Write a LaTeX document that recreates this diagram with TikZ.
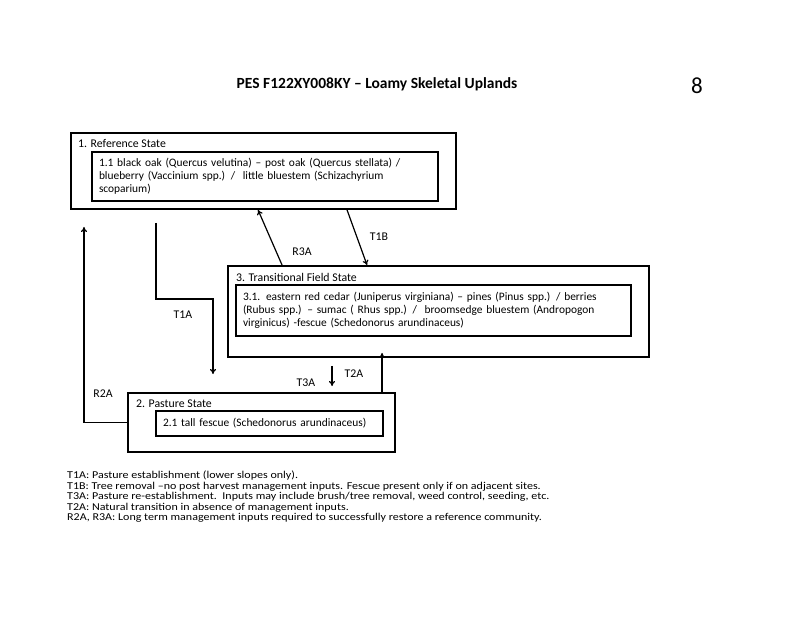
\documentclass[tikz,border=0pt]{standalone}
\usepackage{fontspec}
\setmainfont{Carlito}
\usetikzlibrary{arrows.meta,calc}
\begin{document}
\begin{tikzpicture}[x=1pt,y=-1pt,
  outerbox/.style={draw,line width=1.9pt,minimum width=#1,inner sep=0pt},
  innerbox/.style={draw,line width=1.2pt,align=left,inner xsep=7pt,inner ysep=0pt,font=\fontsize{11.4}{13}\selectfont},
  lbl/.style={font=\fontsize{11.8}{13}\selectfont,inner sep=0pt},
  arr/.style={line width=1.2pt,-{To[length=5pt,width=6pt]}},
  ln/.style={line width=1.2pt}]
\useasboundingbox (0,0) rectangle (800,617);
% title
\node[font=\fontsize{15.5}{17}\bfseries\selectfont] (title) at (377,84) {PES F122XY008KY -- Loamy Skeletal Uplands};
\node[font=\fontsize{23}{25}\selectfont] (pnum) at (697,86) {8};
% Reference state
\node[outerbox=385pt,minimum height=76pt] (ref) at (263.5,171) {};
\node[lbl,anchor=west] (reflbl) at (78,144) {1. Reference State};
\node[innerbox,text width=332pt,minimum height=49pt] (refin) at (265,176.5) {1.1 black oak (Quercus velutina) -- post oak (Quercus stellata) /\\ blueberry (Vaccinium spp.) /\ \ little bluestem (Schizachyrium\\ scoparium)};
% Transitional
\node[outerbox=421pt,minimum height=91pt] (trans) at (438.5,311.5) {};
\node[lbl,anchor=west] (translbl) at (236,277) {3. Transitional Field State};
\node[innerbox,text width=381pt,minimum height=51pt] (transin) at (433.5,310.5) {3.1. eastern red cedar (Juniperus virginiana) -- pines (Pinus spp.) / berries\\ (Rubus spp.) -- sumac ( Rhus spp.) /\ \ broomsedge bluestem (Andropogon\\ virginicus) -fescue (Schedonorus arundinaceus)};
% Pasture
\node[outerbox=267pt,minimum height=59pt] (past) at (261.5,422.5) {};
\node[lbl,anchor=west] (pastlbl) at (136,404) {2. Pasture State};
\node[innerbox,text width=213pt,minimum height=25pt] (pastin) at (269.5,423.5) {2.1 tall fescue (Schedonorus arundinaceus)};
% connectors
\coordinate (r2aend) at (84,227);
\draw[arr] (past.west) -| (r2aend);
\coordinate (t1astart) at (156,223);
\coordinate (t1abend) at (213,299);
\coordinate (t1aend) at (213,374);
\draw[arr] (t1astart) |- (t1abend) -- (t1aend);
\draw[arr] ($(trans.north west)+(55,0)$) -- ($(ref.south west)+(188,0)$);
\draw[arr] ($(ref.south west)+(277,0)$) -- ($(trans.north west)+(140,0)$);
\draw[arr] ($(trans.south west)+(105,8)$) -- ($(past.north west)+(205,-6)$);
\draw[arr] ($(past.north west)+(255,0)$) -- ($(trans.south west)+(155,-5)$);
% labels
\node[lbl] (r2a) at (103,394) {R2A};
\node[lbl] (t1a) at (183,315) {T1A};
\node[lbl] (r3a) at (302,252) {R3A};
\node[lbl] (t1b) at (379,237) {T1B};
\node[lbl] (t3a) at (306,383) {T3A};
\node[lbl] (t2a) at (354,374) {T2A};
% notes
\node[anchor=base west,inner sep=0pt,font=\fontsize{10.5}{10.5}\selectfont] (notes) at (67,478.5) {\scalebox{1.145}[1]{\begin{tabular}[t]{@{}l@{}}T1A: Pasture establishment (lower slopes only).\\
T1B: Tree removal --no post harvest management inputs. Fescue present only if on adjacent sites.\\
T3A: Pasture re-establishment.\ \ Inputs may include brush/tree removal, weed control, seeding, etc.\\
T2A: Natural transition in absence of management inputs.\\
R2A, R3A: Long term management inputs required to successfully restore a reference community.\end{tabular}}};
\end{tikzpicture}
\end{document}
